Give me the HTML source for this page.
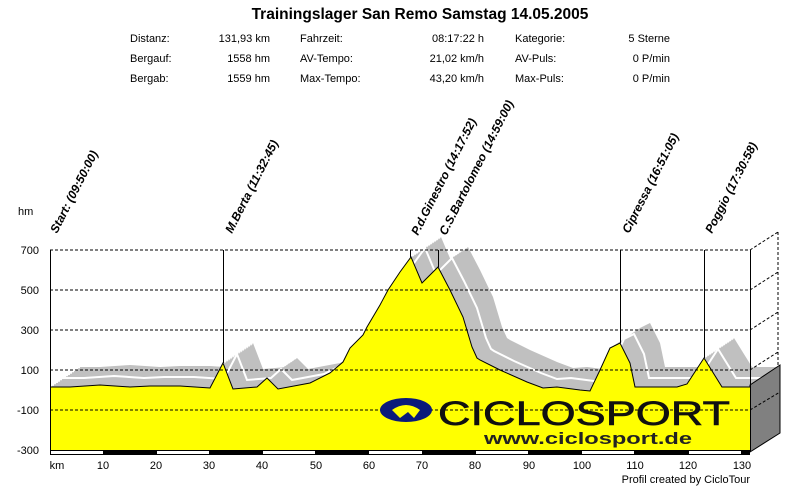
<!DOCTYPE html>
<html><head><meta charset="utf-8"><style>
html,body{margin:0;padding:0;background:#fff;}
svg{display:block;font-family:"Liberation Sans",Arial,sans-serif;}
</style></head><body>
<svg width="800" height="486" viewBox="0 0 800 486" xmlns="http://www.w3.org/2000/svg" xmlns:xlink="http://www.w3.org/1999/xlink">
<defs>
<polygon id="prof" points="50,450 50,387 70,387 100,385 130,387 150,386 180,386 210,388 223,363 233,389 257,387 267,378 278,389 310,383 330,373 343,362 350,348 363,335 367,327 380,305 388,290 400,272 411,257 422,283 438,267 450,290 463,317 472,347 477,358 480,360 500,370 527,382 543,388 557,387 580,390 590,391 600,370 610,348 620,343 630,363 635,387 660,387 677,387 687,384 704,358 722,387 750,387 750,450"/>
<polyline id="pline" fill="none" points="50,387 70,387 100,385 130,387 150,386 180,386 210,388 223,363 233,389 257,387 267,378 278,389 310,383 330,373 343,362 350,348 363,335 367,327 380,305 388,290 400,272 411,257 422,283 438,267 450,290 463,317 472,347 477,358 480,360 500,370 527,382 543,388 557,387 580,390 590,391 600,370 610,348 620,343 630,363 635,387 660,387 677,387 687,384 704,358 722,387 750,387"/>
<clipPath id="cl"><rect x="0" y="0" width="778" height="486"/></clipPath>
</defs>
<rect width="800" height="486" fill="#fff"/>
<text x="420" y="19" text-anchor="middle" font-size="15.5" font-weight="bold">Trainingslager San Remo Samstag 14.05.2005</text>
<g font-size="11" fill="#000">
<text x="130" y="42">Distanz:</text><text x="270" y="42" text-anchor="end">131,93 km</text>
<text x="130" y="62">Bergauf:</text><text x="270" y="62" text-anchor="end">1558 hm</text>
<text x="130" y="82">Bergab:</text><text x="270" y="82" text-anchor="end">1559 hm</text>
<text x="300" y="42">Fahrzeit:</text><text x="484" y="42" text-anchor="end">08:17:22 h</text>
<text x="300" y="62">AV-Tempo:</text><text x="484" y="62" text-anchor="end">21,02 km/h</text>
<text x="300" y="82">Max-Tempo:</text><text x="484" y="82" text-anchor="end">43,20 km/h</text>
<text x="515" y="42">Kategorie:</text><text x="670" y="42" text-anchor="end">5 Sterne</text>
<text x="515" y="62">AV-Puls:</text><text x="670" y="62" text-anchor="end">0 P/min</text>
<text x="515" y="82">Max-Puls:</text><text x="670" y="82" text-anchor="end">0 P/min</text>
</g>
<text x="18" y="215" font-size="11">hm</text>
<g font-size="11" text-anchor="end">
<text x="39" y="254">700</text><text x="39" y="294">500</text><text x="39" y="334">300</text>
<text x="39" y="374">100</text><text x="39" y="414">-100</text><text x="39" y="454">-300</text>
</g>
<!-- shadow sweep -->
<g fill="#c0c0c0" clip-path="url(#cl)">
<use xlink:href="#prof" href="#prof" transform="translate(2,-1.3)"/>
<use xlink:href="#prof" href="#prof" transform="translate(4,-2.7)"/>
<use xlink:href="#prof" href="#prof" transform="translate(6,-4)"/>
<use xlink:href="#prof" href="#prof" transform="translate(8,-5.3)"/>
<use xlink:href="#prof" href="#prof" transform="translate(10,-6.7)"/>
<use xlink:href="#prof" href="#prof" transform="translate(12,-8)"/>
<use xlink:href="#prof" href="#prof" transform="translate(14,-9.3)"/>
<use xlink:href="#prof" href="#prof" transform="translate(16,-10.7)"/>
<use xlink:href="#prof" href="#prof" transform="translate(18,-12)"/>
<use xlink:href="#prof" href="#prof" transform="translate(20,-13.3)"/>
<use xlink:href="#prof" href="#prof" transform="translate(22,-14.7)"/>
<use xlink:href="#prof" href="#prof" transform="translate(24,-16)"/>
<use xlink:href="#prof" href="#prof" transform="translate(26,-17.3)"/>
<use xlink:href="#prof" href="#prof" transform="translate(28,-18.7)"/>
<use xlink:href="#prof" href="#prof" transform="translate(30,-20)"/>
</g>
<use xlink:href="#pline" href="#pline" stroke="#fff" stroke-width="2" transform="translate(14,-9)" clip-path="url(#cl)"/>
<!-- 3D side -->
<polygon points="750,385 780,365 780,433 750,452" fill="#808080" stroke="#000" stroke-width="1"/>
<g stroke="#000" stroke-dasharray="3,2" fill="none" stroke-width="1">
<line x1="750" y1="250" x2="778" y2="232"/><line x1="750" y1="290" x2="778" y2="272"/>
<line x1="750" y1="330" x2="778" y2="312"/><line x1="750" y1="370" x2="778" y2="352"/>
<line x1="750" y1="410" x2="780" y2="392"/>
<line x1="778" y1="232" x2="778" y2="365"/>
</g>
<!-- profile -->
<use xlink:href="#prof" href="#prof" fill="#ffff00"/>
<use xlink:href="#pline" href="#pline" stroke="#000" stroke-width="1"/>
<!-- grid -->
<g stroke="#000" stroke-dasharray="3,2" stroke-width="1">
<line x1="50" y1="250" x2="750" y2="250"/><line x1="50" y1="290" x2="750" y2="290"/>
<line x1="50" y1="330" x2="750" y2="330"/><line x1="50" y1="370" x2="750" y2="370"/>
<line x1="50" y1="410" x2="750" y2="410"/>
</g>
<g stroke="#000" stroke-width="1">
<line x1="50.5" y1="250" x2="50.5" y2="452"/>
<line x1="750.5" y1="250" x2="750.5" y2="452"/>
<line x1="223.5" y1="250" x2="223.5" y2="363"/>
<line x1="410.5" y1="250" x2="410.5" y2="257"/>
<line x1="438.5" y1="250" x2="438.5" y2="267"/>
<line x1="620.5" y1="250" x2="620.5" y2="343"/>
<line x1="704.5" y1="250" x2="704.5" y2="358"/>
</g>
<!-- logo -->
<ellipse cx="406" cy="410" rx="26" ry="12" fill="#0a1a7a"/>
<path d="M392,410 q14,-10 28,0 l-6,8 l-6,-6 l-8,6z" fill="#ffff00"/>
<text x="438" y="425" font-size="34" fill="#111" stroke="#111" stroke-width="0.6" textLength="292" lengthAdjust="spacingAndGlyphs">CICLOSPORT</text>
<text x="484" y="444" font-size="17" font-weight="bold" fill="#222" textLength="208" lengthAdjust="spacingAndGlyphs">www.ciclosport.de</text>
<!-- bottom bar -->
<rect x="50" y="450" width="700" height="5" fill="#000"/>
<g fill="#fff">
<rect x="51" y="451" width="52" height="3"/><rect x="157" y="451" width="52" height="3"/>
<rect x="263" y="451" width="52" height="3"/><rect x="369" y="451" width="53" height="3"/>
<rect x="476" y="451" width="52" height="3"/><rect x="582" y="451" width="52" height="3"/>
<rect x="689" y="451" width="52" height="3"/>
</g>
<g font-size="11" text-anchor="middle">
<text x="57" y="469">km</text><text x="103" y="469">10</text><text x="156" y="469">20</text>
<text x="209" y="469">30</text><text x="262" y="469">40</text><text x="316" y="469">50</text>
<text x="369" y="469">60</text><text x="422" y="469">70</text><text x="475" y="469">80</text>
<text x="529" y="469">90</text><text x="582" y="469">100</text><text x="635" y="469">110</text>
<text x="688" y="469">120</text><text x="742" y="469">130</text>
</g>
<text x="750" y="483" font-size="11" text-anchor="end">Profil created by CicloTour</text>
<!-- waypoint labels -->
<g font-size="12" font-weight="bold" font-style="italic">
<text transform="translate(57,234) rotate(-63)">Start: (09:50:00)</text>
<text transform="translate(232,234) rotate(-63)">M.Berta (11:32:45)</text>
<text transform="translate(418,236) rotate(-63)">P.d.Ginestro (14:17:52)</text>
<text transform="translate(446,236) rotate(-63)">C.S.Bartolomeo (14:59:00)</text>
<text transform="translate(629,234) rotate(-63)">Cipressa (16:51:05)</text>
<text transform="translate(712,234) rotate(-63)">Poggio (17:30:58)</text>
</g>
</svg>
</body></html>
